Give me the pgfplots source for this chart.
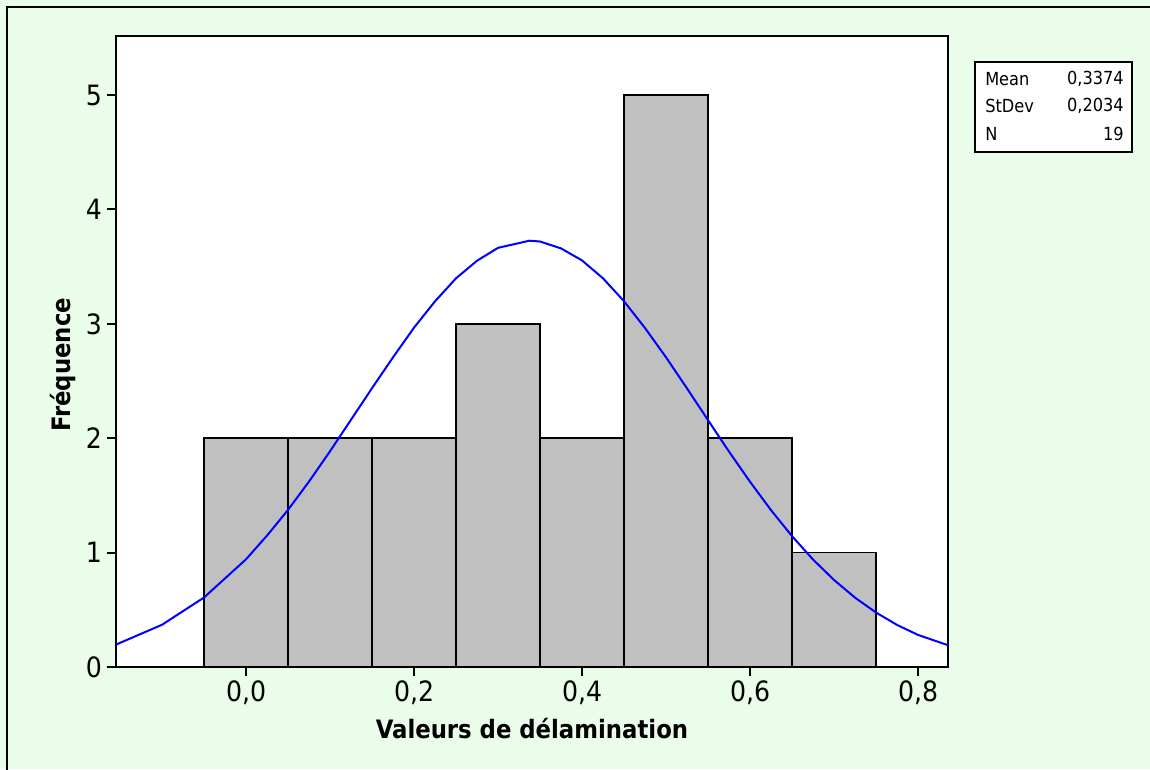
\documentclass[border=0pt]{standalone}
\usepackage{fontspec}
\setmainfont{DejaVu Sans Condensed}
\usepackage{pgfplots}
\pgfplotsset{compat=1.18}
\definecolor{bgreen}{RGB}{234,252,234}
\definecolor{bargray}{RGB}{192,192,192}
\begin{document}
\begin{tikzpicture}[x=1pt,y=1pt]
\fill[bgreen] (0,0) rectangle (862.5,576.75);
\useasboundingbox (0,0) rectangle (862.5,576.75);
\draw[line width=1.5pt] (5.25,-5) -- (5.25,571.5) -- (870,571.5);
\begin{axis}[
  at={(87pt,76.5pt)}, anchor=south west,
  scale only axis, width=624pt, height=473.25pt,
  xmin=-0.1548, xmax=0.8357, ymin=0, ymax=5.516,
  axis background/.style={fill=white},
  axis line style={line width=1.5pt},
  xtick={0,0.2,0.4,0.6,0.8}, ytick={0,1,2,3,4,5},
  tick align=outside, major tick length=7pt,
  tick style={line width=1.5pt, black},
  xtick pos=bottom, ytick pos=left,
  /pgf/number format/assume math mode=true,
  xticklabel style={/pgf/number format/.cd, fixed, fixed zerofill, precision=1, use comma},
  ticklabel style={font=\fontsize{21}{24}\selectfont},
  xlabel={\textbf{Valeurs de délamination}},
  ylabel={\textbf{Fréquence}},
  label style={font=\fontsize{19}{22}\selectfont},
  xlabel style={yshift=-3pt},
  ylabel style={yshift=1pt, xshift=-10pt},
]
\addplot[ybar interval, fill=bargray, draw=black, line width=1.2pt] coordinates {
(-0.05,2) (0.05,2) (0.15,2) (0.25,3) (0.35,2) (0.45,5) (0.55,2) (0.65,1) (0.75,1)};
\addplot[blue, line width=1.5pt] coordinates {
(-0.1548,0.195) (-0.15,0.2111) (-0.10,0.3692) (-0.05,0.6075) (0.00,0.9415) (0.025,1.1488) (0.05,1.3733) (0.075,1.6214) (0.10,1.8859)
(0.125,2.1617) (0.15,2.4377) (0.175,2.7071) (0.20,2.9664) (0.225,3.1968) (0.25,3.3980) (0.275,3.5515) (0.30,3.6641) (0.3374,3.7266) (0.35,3.7194)
(0.375,3.6594) (0.40,3.5542) (0.425,3.3976) (0.45,3.1972) (0.475,2.9631) (0.50,2.7074) (0.525,2.4351) (0.55,2.1580) (0.575,1.8829) (0.60,1.6194) (0.625,1.3712) (0.65,1.1439)
(0.675,0.9394) (0.70,0.7607) (0.725,0.6063) (0.75,0.4762) (0.775,0.3680) (0.80,0.2806) (0.8357,0.1905)};
\end{axis}
\draw[line width=1.1pt, fill=white] (731.25,462.75) rectangle (849,530.25);
\begin{scope}[every node/.style={font=\fontsize{13.5}{15}\selectfont, inner sep=0pt}]
\node[anchor=west] at (738.75,517.5) {Mean};
\node[anchor=west] at (738.75,497.25) {StDev};
\node[anchor=west] at (738.75,476.25) {N};
\node[anchor=east] at (843,517.5) {0,3374};
\node[anchor=east] at (843,497.25) {0,2034};
\node[anchor=east] at (843,476.25) {19};
\end{scope}
\end{tikzpicture}
\end{document}
